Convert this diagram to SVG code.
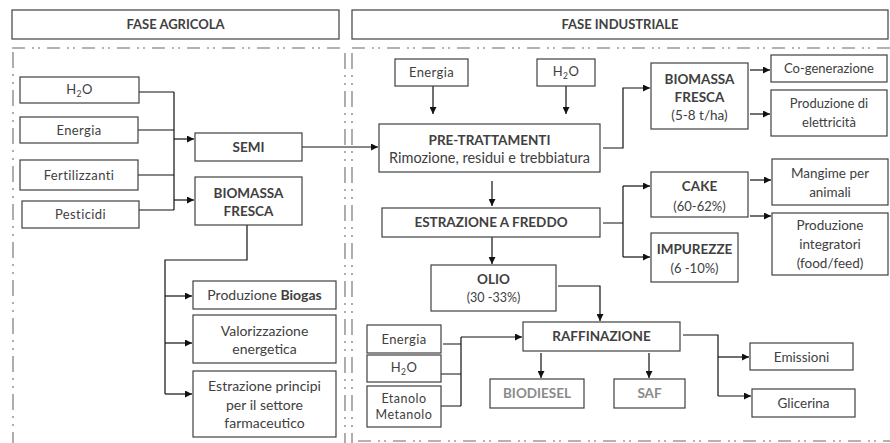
<svg xmlns="http://www.w3.org/2000/svg" width="890" height="443" viewBox="0 0 890 443">
  <defs>
    <marker id="arrow" viewBox="0 0 10 10" refX="10" refY="5" markerWidth="7" markerHeight="7" markerUnits="userSpaceOnUse" orient="auto">
      <path d="M0,0 L10,5 L0,10 z" fill="#111"/>
    </marker>
    <style>
      .box { fill: #fff; stroke: #404040; stroke-width: 1.2; }
      .t { font-family: Lato, "Open Sans", "Liberation Sans", sans-serif; font-size: 12.5px; fill: #404040; text-anchor: middle; }
      .s { font-size: 13px; letter-spacing: 0.4px; }
      .m { font-size: 13.5px; }
      .l { font-size: 14px; }
      .b { font-weight: bold; font-size: 13.5px; letter-spacing: 0; }
      .g { fill: #8a8a8a; }
      .sub { font-size: 8.5px; }
      .conn path { fill: none; stroke: #111; stroke-width: 1.2; }
      .arr { marker-end: url(#arrow); }
      .hdash { fill: none; stroke: #9a9a9a; stroke-width: 1.6; stroke-dasharray: 13 7 2 4 2 7; }
      .vdash { fill: none; stroke: #9a9a9a; stroke-width: 1.6; stroke-dasharray: 16 6 2 6 2 6; }
    </style>
  </defs>
  <rect width="890" height="443" fill="#fff"/>

  <!-- phase headers -->
  <g id="header-agricola">
    <rect class="box" x="12" y="10" width="327" height="29"/>
    <text class="t b" x="175.5" y="29" style="font-size:13px">FASE AGRICOLA</text>
  </g>
  <g id="header-industriale">
    <rect class="box" x="352" y="10" width="536" height="29"/>
    <text class="t b" x="620" y="29" style="font-size:13px">FASE INDUSTRIALE</text>
  </g>

  <!-- phase region borders -->
  <g id="borders">
    <path class="hdash" d="M12,48 H340"/>
    <path class="hdash" d="M352,48 H890"/>
    <path class="vdash" d="M13,52 V443"/>
    <path class="vdash" d="M345,53 V443"/>
    <path class="vdash" d="M352,53 V443"/>
    <path class="hdash" d="M358,441 H890"/>
  </g>

  <!-- connectors -->
  <g id="connectors" class="conn">
    <path d="M139,92 H174 M138,130 H174 M138,175 H174 M139,210 H174 M174,92 V210"/>
    <path class="arr" d="M174,139 H194"/>
    <path class="arr" d="M174,200 H194"/>
    <path class="arr" d="M302,147 H378"/>
    <path d="M247,225 V260 H165 V394"/>
    <path class="arr" d="M165,296 H192"/>
    <path class="arr" d="M165,343 H192"/>
    <path class="arr" d="M165,394 H192"/>
    <path class="arr" d="M433,86 V114"/>
    <path class="arr" d="M566,86 V114"/>
    <path class="arr" d="M603,148 H623 V88 H650"/>
    <path class="arr" d="M750,70 H770"/>
    <path class="arr" d="M750,114 H770"/>
    <path class="arr" d="M492,181 V206"/>
    <path d="M603,223 H623 M623,186 V257"/>
    <path class="arr" d="M623,186 H650"/>
    <path class="arr" d="M623,257 H650"/>
    <path class="arr" d="M750,180 H771"/>
    <path class="arr" d="M750,216 H771"/>
    <path class="arr" d="M492,237 V264"/>
    <path class="arr" d="M558,286 H600 V321"/>
    <path d="M443,344 H461 M441,374 H461 M441,406 H461 M461,337 V406"/>
    <path class="arr" d="M461,337 H522"/>
    <path class="arr" d="M541,353 V378"/>
    <path class="arr" d="M649,353 V378"/>
    <path d="M683,335 H718 V396"/>
    <path class="arr" d="M718,357 H749"/>
    <path class="arr" d="M718,396 H751"/>
  </g>

  <!-- agricultural inputs -->
  <g id="in-h2o">
    <rect class="box" x="20" y="77" width="119" height="26"/>
    <text class="t s" x="79.5" y="94">H<tspan class="sub" dy="3">2</tspan><tspan dy="-3">O</tspan></text>
  </g>
  <g id="in-energia">
    <rect class="box" x="20" y="117" width="118" height="26"/>
    <text class="t s" x="79" y="134.5">Energia</text>
  </g>
  <g id="in-fertilizzanti">
    <rect class="box" x="20" y="160" width="118" height="30"/>
    <text class="t s" x="79" y="179.5">Fertilizzanti</text>
  </g>
  <g id="in-pesticidi">
    <rect class="box" x="22" y="201" width="117" height="27"/>
    <text class="t s" x="80.5" y="219">Pesticidi</text>
  </g>

  <g id="semi">
    <rect class="box" x="195" y="133" width="107" height="28"/>
    <text class="t b" x="248.5" y="152">SEMI</text>
  </g>
  <g id="biomassa-agricola">
    <rect class="box" x="195" y="177" width="107" height="48"/>
    <text class="t b" x="248.5" y="198">BIOMASSA</text>
    <text class="t b" x="248.5" y="216">FRESCA</text>
  </g>

  <g id="biogas">
    <rect class="box" x="193" y="281" width="143" height="28"/>
    <text class="t l" x="264.5" y="300">Produzione <tspan font-weight="bold">Biogas</tspan></text>
  </g>
  <g id="valorizzazione">
    <rect class="box" x="193" y="315" width="143" height="48"/>
    <text class="t l" x="264.5" y="336">Valorizzazione</text>
    <text class="t l" x="264.5" y="354">energetica</text>
  </g>
  <g id="farmaceutico">
    <rect class="box" x="193" y="371" width="143" height="66"/>
    <text class="t l" x="264.5" y="391">Estrazione principi</text>
    <text class="t l" x="264.5" y="410">per il settore</text>
    <text class="t l" x="264.5" y="428">farmaceutico</text>
  </g>

  <!-- industrial chain -->
  <g id="ind-energia">
    <rect class="box" x="395" y="59" width="73" height="27"/>
    <text class="t s" x="431.5" y="77">Energia</text>
  </g>
  <g id="ind-h2o">
    <rect class="box" x="537" y="59" width="58" height="27"/>
    <text class="t s" x="566" y="76">H<tspan class="sub" dy="3">2</tspan><tspan dy="-3">O</tspan></text>
  </g>
  <g id="pretrattamenti">
    <rect class="box" x="379" y="124" width="221" height="48"/>
    <text class="t b" x="489.5" y="145">PRE-TRATTAMENTI</text>
    <text class="t" x="489.5" y="163" style="font-size:14.5px">Rimozione, residui e trebbiatura</text>
  </g>
  <g id="estrazione">
    <rect class="box" x="382" y="208" width="218" height="29"/>
    <text class="t b" x="491" y="227">ESTRAZIONE A FREDDO</text>
  </g>

  <g id="biomassa-industriale">
    <rect class="box" x="651" y="63" width="97" height="66"/>
    <text class="t b" x="699.5" y="84">BIOMASSA</text>
    <text class="t b" x="699.5" y="102">FRESCA</text>
    <text class="t m" x="699.5" y="119.5">(5-8 t/ha)</text>
  </g>
  <g id="cogenerazione">
    <rect class="box" x="771" y="55" width="116" height="27"/>
    <text class="t" x="829" y="73" style="font-size:13px">Co-generazione</text>
  </g>
  <g id="elettricita">
    <rect class="box" x="771" y="90" width="116" height="46"/>
    <text class="t" x="829" y="107.5" style="font-size:13px">Produzione di</text>
    <text class="t" x="829" y="126.5" style="font-size:13px">elettricità</text>
  </g>

  <g id="cake">
    <rect class="box" x="651" y="172" width="97" height="45"/>
    <text class="t b" x="699.5" y="191">CAKE</text>
    <text class="t" x="699.5" y="210.5" style="font-size:13px">(60-62%)</text>
  </g>
  <g id="impurezze">
    <rect class="box" x="651" y="233" width="87" height="49"/>
    <text class="t b" x="694.5" y="254">IMPUREZZE</text>
    <text class="t" x="694.5" y="272.5" style="font-size:13px">(6 -10%)</text>
  </g>
  <g id="mangime">
    <rect class="box" x="772" y="159" width="116" height="46"/>
    <text class="t m" x="830" y="177.5">Mangime per</text>
    <text class="t m" x="830" y="196.5">animali</text>
  </g>
  <g id="integratori">
    <rect class="box" x="772" y="213" width="116" height="62"/>
    <text class="t m" x="830" y="229.5">Produzione</text>
    <text class="t m" x="830" y="249">integratori</text>
    <text class="t m" x="830" y="267.5">(food/feed)</text>
  </g>

  <g id="olio">
    <rect class="box" x="431" y="265" width="125" height="46"/>
    <text class="t b" x="493.5" y="284">OLIO</text>
    <text class="t" x="493.5" y="302">(30 -33%)</text>
  </g>

  <g id="raf-energia">
    <rect class="box" x="367" y="325" width="74" height="28"/>
    <text class="t s" x="404" y="343.5">Energia</text>
  </g>
  <g id="raf-h2o">
    <rect class="box" x="367" y="355" width="74" height="27"/>
    <text class="t s" x="404" y="372">H<tspan class="sub" dy="3">2</tspan><tspan dy="-3">O</tspan></text>
  </g>
  <g id="raf-alcoli">
    <rect class="box" x="367" y="386" width="74" height="41"/>
    <text class="t" x="404" y="403" style="letter-spacing:0.5px">Etanolo</text>
    <text class="t" x="404" y="418.5" style="letter-spacing:0.5px">Metanolo</text>
  </g>

  <g id="raffinazione">
    <rect class="box" x="523" y="322" width="157" height="29"/>
    <text class="t b" x="601.5" y="341">RAFFINAZIONE</text>
  </g>
  <g id="biodiesel">
    <rect class="box" x="490" y="379" width="94" height="29"/>
    <text class="t b g" x="537" y="398">BIODIESEL</text>
  </g>
  <g id="saf">
    <rect class="box" x="614" y="379" width="71" height="29"/>
    <text class="t b g" x="649.5" y="398">SAF</text>
  </g>
  <g id="emissioni">
    <rect class="box" x="750" y="343" width="103" height="27"/>
    <text class="t m" x="801.5" y="361.5">Emissioni</text>
  </g>
  <g id="glicerina">
    <rect class="box" x="752" y="389" width="103" height="28"/>
    <text class="t m" x="803.5" y="407.5">Glicerina</text>
  </g>
</svg>
